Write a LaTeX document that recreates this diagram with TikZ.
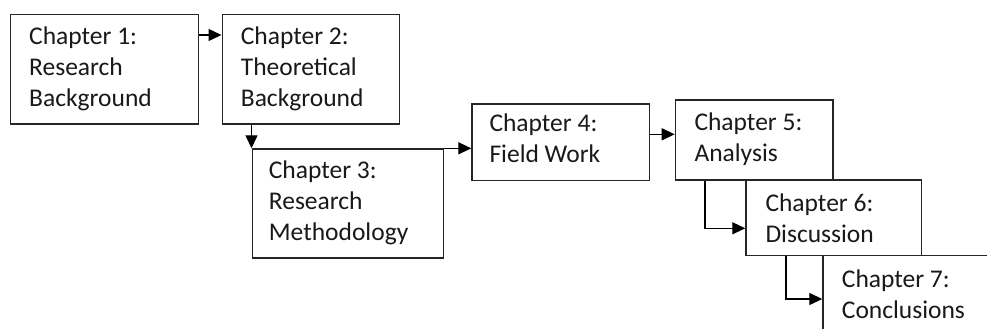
\documentclass[tikz,border=0pt]{standalone}
\usepackage{fontspec}
\setmainfont{Carlito}
\usetikzlibrary{arrows.meta}
\begin{document}
\begin{tikzpicture}[x=1pt,y=-1pt,
  chapbox/.style={draw=black!85, line width=1.4pt, fill=none, inner sep=0pt},
  chaptext/.style={anchor=north west, inner sep=0pt, align=left, text=black!90,
    font=\fontsize{25.5}{31}\selectfont, yshift=21.7pt},
  arr/.style={draw=black, line width=1.3pt, -{Triangle[length=13pt,width=12pt]}}]
\useasboundingbox (0,0) rectangle (987,329);
\clip (0,0) rectangle (987,329);
\fill[white] (0,0) rectangle (987,329);
% boxes
\node[chapbox, minimum width=188pt, minimum height=109.3pt, anchor=north west] (c1) at (9.5,14) {};
\node[chapbox, minimum width=177.2pt, minimum height=109.3pt, anchor=north west] (c2) at (221.5,14) {};
\node[chapbox, minimum width=191.2pt, minimum height=109pt, anchor=north west] (c3) at (251.5,148.3) {};
\node[chapbox, minimum width=177.7pt, minimum height=76.7pt, anchor=north west] (c4) at (471.3,103.3) {};
\node[chapbox, minimum width=157.6pt, minimum height=80pt, anchor=north west] (c5) at (674.7,99.3) {};
\node[chapbox, minimum width=175.7pt, minimum height=75.7pt, anchor=north west] (c6) at (745.3,179.3) {};
\node[chapbox, minimum width=180pt, minimum height=90pt, anchor=north west] (c7) at (822.3,255) {};
% texts
\node[chaptext] (t1) at (29,44.3) {\strut Chapter 1:\\\strut Research\\\strut Background};
\node[chaptext] (t2) at (240.7,44.3) {\strut Chapter 2:\\\strut Theoretical\\\strut Background};
\node[chaptext] (t3) at (268.7,178.7) {\strut Chapter 3:\\\strut Research\\\strut Methodology};
\node[chaptext] (t4) at (489.3,131.2) {\strut Chapter 4:\\\strut Field Work};
\node[chaptext] (t5) at (694.3,130) {\strut Chapter 5:\\\strut Analysis};
\node[chaptext] (t6) at (765.3,211.5) {\strut Chapter 6:\\\strut Discussion};
\node[chaptext] (t7) at (841.7,287.3) {\strut Chapter 7:\\\strut Conclusions};
% connector helpers
\coordinate (y12) at (0,35);
\coordinate (y45) at (0,134.3);
\coordinate (k56) at (705,228.3);
\coordinate (k67) at (786,299);
% connectors
\draw[arr] (c1.east |- y12) -- (c2.west |- y12);
\draw[arr] (c3.north west |- c2.south) -- (c3.north west);
\draw[arr] (c3.north east) -- (c3.north east -| c4.west);
\draw[arr] (c4.east |- y45) -- (c5.west |- y45);
\draw[arr] (k56 |- c5.south) -- (k56) -- (k56 -| c6.west);
\draw[arr] (k67 |- c6.south) -- (k67) -- (k67 -| c7.west);
\end{tikzpicture}
\end{document}
